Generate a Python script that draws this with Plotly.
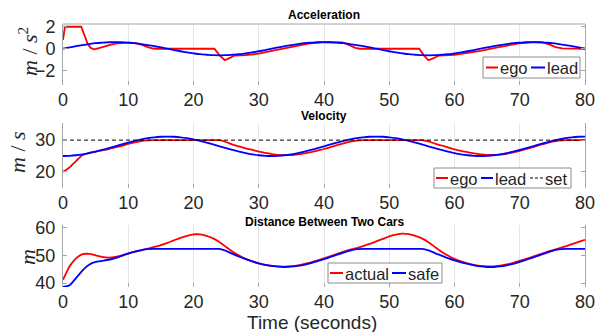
import plotly.graph_objects as go

# ---------------- data ----------------
t = list(range(81))

# Acceleration (m/s^2)
t_acc_ego = [0, 0.3, 2.8, 3.3, 3.8, 4.3, 4.8, 5.5, 6.5, 7.5, 8.5, 10, 11, 12, 13, 13.8, 14.5,
             23.2, 24.0, 24.8, 25.5, 26.3, 28, 30, 32, 34, 36, 38, 40, 42.8, 43.8, 44.8, 45.5,
             54.6, 55.3, 56.0, 56.8, 57.6, 60, 62, 64, 66, 68, 70, 72, 73.5, 74.5, 75.5, 76.5, 78, 80]
acc_ego = [0.8, 2.0, 2.0, 1.2, 0.4, 0.05, -0.05, 0.05, 0.25, 0.4, 0.5, 0.55, 0.5, 0.38, 0.15, 0.02, 0.0,
           0.0, -0.6, -1.05, -0.85, -0.62, -0.58, -0.45, -0.2, 0.05, 0.3, 0.5, 0.6, 0.58, 0.35, 0.08, 0.0,
           0.0, -0.6, -1.05, -0.85, -0.62, -0.55, -0.4, -0.2, 0.05, 0.3, 0.5, 0.6, 0.58, 0.4, 0.15, 0.03, 0.0, 0.0]
acc_lead = [0, .12, .23, .33, .42, .50, .55, .59, .60, .59, .55, .50, .42, .33, .23, .12,
            0, -.12, -.23, -.33, -.42, -.50, -.55, -.59, -.60, -.59, -.55, -.50, -.42, -.33, -.23, -.12,
            0, .12, .23, .33, .42, .50, .55, .59, .60, .59, .55, .50, .42, .33, .23, .12,
            0, -.12, -.23, -.33, -.42, -.50, -.55, -.59, -.60, -.59, -.55, -.50, -.42, -.33, -.23, -.12,
            0, .12, .23, .33, .42, .50, .55, .59, .60, .59, .55, .50, .42, .33, .23, .12, 0]

# Velocity (m/s)
vel_ego = [20.0, 21.4, 23.4, 25.3, 26.0, 26.4, 26.8, 27.2, 27.7, 28.2, 28.8, 29.3, 29.7, 29.9, 30, 30,
           30, 30, 30, 30, 30, 30, 30, 30, 30, 29.4, 28.6, 28.0, 27.4, 26.9, 26.4, 26.0, 25.6, 25.35,
           25.25, 25.3, 25.5, 25.8, 26.2, 26.7, 27.2, 27.8, 28.4, 29.0, 29.5, 29.85, 30, 30, 30, 30,
           30, 30, 30, 30, 30, 30, 29.6, 28.9, 28.3, 27.7, 27.1, 26.6, 26.2, 25.8, 25.5, 25.35, 25.3,
           25.4, 25.7, 26.1, 26.6, 27.2, 27.8, 28.4, 29.0, 29.5, 29.85, 30, 30, 30, 30]
vel_lead = [25.0, 25.06, 25.23, 25.52, 25.9, 26.36, 26.89, 27.46, 28.06, 28.66, 29.23, 29.76, 30.22,
            30.6, 30.89, 31.06, 31.12, 31.06, 30.89, 30.6, 30.22, 29.76, 29.23, 28.66, 28.06, 27.46,
            26.89, 26.36, 25.9, 25.52, 25.23, 25.06,
            25.0, 25.06, 25.23, 25.52, 25.9, 26.36, 26.89, 27.46, 28.06, 28.66, 29.23, 29.76, 30.22,
            30.6, 30.89, 31.06, 31.12, 31.06, 30.89, 30.6, 30.22, 29.76, 29.23, 28.66, 28.06, 27.46,
            26.89, 26.36, 25.9, 25.52, 25.23, 25.06,
            25.0, 25.06, 25.23, 25.52, 25.9, 26.36, 26.89, 27.46, 28.06, 28.66, 29.23, 29.76, 30.22,
            30.6, 30.89, 31.06, 31.12]
vel_set = [30] * 81

# Distance (m)
dist_actual = [41.2, 46.0, 48.9, 50.4, 50.5, 50.0, 49.4, 49.2, 49.4, 50.0, 50.7, 51.3, 51.8, 52.4,
               53.0, 53.7, 54.5, 55.4, 56.3, 57.0, 57.5, 57.5, 57.0, 56.1, 54.7, 53.0, 51.3, 49.9,
               48.7, 47.8, 47.1, 46.6, 46.2, 46.0, 45.95, 46.1, 46.4, 46.9, 47.5, 48.2, 48.9, 49.7,
               50.5, 51.3, 52.0, 52.6, 53.3, 54.1, 55.0, 55.9, 56.8, 57.4, 57.8, 57.6, 57.0, 56.1,
               54.7, 53.0, 51.3, 49.9, 48.7, 47.8, 47.1, 46.6, 46.2, 46.0, 46.0, 46.3, 46.7, 47.3,
               48.0, 48.7, 49.5, 50.3, 51.1, 51.8, 52.5, 53.2, 54.0, 54.8, 55.6]
dist_safe = [38.6, 39.2, 41.8, 44.6, 46.6, 47.6, 48.0, 48.4, 49.0, 49.8, 50.6, 51.3, 51.9, 52.25,
             52.3, 52.3, 52.3, 52.3, 52.3, 52.3, 52.3, 52.3, 52.3, 52.3, 52.3, 51.6, 50.5, 49.5,
             48.6, 47.8, 47.1, 46.6, 46.2, 45.9, 45.8, 45.9, 46.2, 46.6, 47.2, 47.9, 48.6, 49.4,
             50.2, 51.0, 51.7, 52.2, 52.3, 52.3, 52.3, 52.3, 52.3, 52.3, 52.3, 52.3, 52.3, 52.3,
             51.8, 50.8, 49.9, 49.0, 48.2, 47.5, 46.9, 46.4, 46.0, 45.8, 45.8, 46.0, 46.4, 46.9,
             47.6, 48.4, 49.2, 50.0, 50.8, 51.6, 52.1, 52.3, 52.3, 52.3, 52.3]

x_ticks = [0, 10, 20, 30, 40, 50, 60, 70, 80]
y1_ticks = [-2, 0, 2]
y2_ticks = [20, 30]
y3_ticks = [40, 50, 60]

# ---------------- figure ----------------
W, H = 604, 332
RED, BLUE = "#ff0000", "#0000ff"
FONT = "Liberation Sans"
TICK_COLOR = "#262626"
AX_COLOR = "#a6a6a6"
GRID_COLOR = "#e6e6e6"


def px(x):
    return x / W


def py(y):
    return 1 - y / H


fig = go.Figure()
lw = 1.8
fig.add_trace(go.Scatter(x=t_acc_ego, y=acc_ego, mode="lines", line=dict(color=RED, width=lw),
                         name="ego", xaxis="x", yaxis="y"))
fig.add_trace(go.Scatter(x=t, y=acc_lead, mode="lines", line=dict(color=BLUE, width=lw, shape="spline"),
                         name="lead", xaxis="x", yaxis="y"))
fig.add_trace(go.Scatter(x=t, y=vel_ego, mode="lines", line=dict(color=RED, width=lw, shape="spline", smoothing=0.6),
                         name="ego", xaxis="x2", yaxis="y2"))
fig.add_trace(go.Scatter(x=t, y=vel_lead, mode="lines", line=dict(color=BLUE, width=lw, shape="spline"),
                         name="lead", xaxis="x2", yaxis="y2"))
fig.add_trace(go.Scatter(x=t, y=vel_set, mode="lines", line=dict(color="#000000", width=1, dash="4px,3px"),
                         name="set", xaxis="x2", yaxis="y2"))
fig.add_trace(go.Scatter(x=t, y=dist_actual, mode="lines", line=dict(color=RED, width=lw, shape="spline", smoothing=0.6),
                         name="actual", xaxis="x3", yaxis="y3"))
fig.add_trace(go.Scatter(x=t, y=dist_safe, mode="lines", line=dict(color=BLUE, width=lw, shape="spline", smoothing=0.6),
                         name="safe", xaxis="x3", yaxis="y3"))

xdom = [px(63), px(585)]
doms = {1: [py(85), py(24)], 2: [py(188), py(123)], 3: [py(287), py(225)]}
yranges = {1: [-3.3, 2.25], 2: [14.9, 35.4], 3: [38.6, 60.9]}
yticks = {1: y1_ticks, 2: y2_ticks, 3: y3_ticks}

tickfont = dict(family=FONT, size=18, color=TICK_COLOR)
layout = dict(
    width=W, height=H, margin=dict(l=0, r=0, t=0, b=0, autoexpand=False),
    paper_bgcolor="white", plot_bgcolor="white", showlegend=False,
    font=dict(family=FONT, color=TICK_COLOR),
)
for i in (1, 2, 3):
    sx = "" if i == 1 else str(i)
    layout["xaxis" + sx] = dict(
        domain=xdom, anchor="y" + sx, range=[0, 80], tickmode="array", tickvals=x_ticks,
        showgrid=True, gridcolor=GRID_COLOR, gridwidth=1, zeroline=False, showline=False,
        ticks="inside", ticklen=4, tickcolor=AX_COLOR, tickfont=tickfont, ticklabelstandoff=2,
        automargin=False,
    )
    layout["yaxis" + sx] = dict(
        domain=doms[i], anchor="x" + sx, range=yranges[i], tickmode="array", tickvals=yticks[i],
        showgrid=False, zeroline=False, showline=True, linecolor=AX_COLOR, linewidth=1, mirror="ticks",
        ticks="inside", ticklen=4, tickcolor=AX_COLOR, tickfont=tickfont, ticklabelstandoff=3,
        automargin=False,
    )
fig.update_layout(**layout)

# top box line of the first panel
fig.add_shape(type="line", xref="x domain", yref="y domain", x0=0, x1=1, y0=1, y1=1,
              line=dict(color=AX_COLOR, width=1))

# panel titles
for text, yy in (("Acceleration", 15), ("Velocity", 116), ("Distance Between Two Cars", 222)):
    fig.add_annotation(text="<b>%s</b>" % text, xref="paper", yref="paper", x=px(324), y=py(yy),
                       showarrow=False, xanchor="center", yanchor="middle",
                       font=dict(family=FONT, size=12, color="#000000"))

# x axis title
fig.add_annotation(text="Time (seconds)", xref="paper", yref="paper", x=px(312), y=py(322.5), showarrow=False,
                   xanchor="center", yanchor="middle", font=dict(family=FONT, size=19, color=TICK_COLOR))

# y axis titles
serif = dict(family="Liberation Serif", size=22, color="#262626")
for text, xx, yy in (("<i>m</i> / <i>s</i><sup>2</sup>", 28, 52), ("<i>m</i> / <i>s</i>", 18, 152),
                     ("<i>m</i>", 27, 257)):
    fig.add_annotation(text=text, xref="paper", yref="paper", x=px(xx), y=py(yy), showarrow=False,
                       textangle=-90, xanchor="center", yanchor="middle", font=serif)


# legends (compact, MATLAB-like)
def add_legend(box, items):
    x0, y0, x1, y1 = box
    fig.add_shape(type="rect", xref="paper", yref="paper", x0=px(x0), x1=px(x1), y0=py(y1), y1=py(y0),
                  line=dict(color="#8c8c8c", width=1), fillcolor="white", layer="above")
    yc = (y0 + y1) / 2
    for label, color, dash, lx0, lx1, tx in items:
        fig.add_shape(type="line", xref="paper", yref="paper", x0=px(lx0), x1=px(lx1), y0=py(yc), y1=py(yc),
                      line=dict(color=color, width=2 if dash == "solid" else 1, dash=dash), layer="above")
        fig.add_annotation(text=label, xref="paper", yref="paper", x=px(tx), y=py(yc + 0.5), showarrow=False,
                           xanchor="left", yanchor="middle", font=dict(family=FONT, size=16.5, color="#262626"))


add_legend((483, 57, 580, 78), [("ego", RED, "solid", 486, 498, 498), ("lead", BLUE, "solid", 531, 545, 545)])
add_legend((434, 168, 571, 188), [("ego", RED, "solid", 436, 448, 448), ("lead", BLUE, "solid", 481, 493, 493),
                                  ("set", "#000000", "3px,2px", 530, 543, 543)])
add_legend((328, 263, 442, 283), [("actual", RED, "solid", 330, 343, 343), ("safe", BLUE, "solid", 392, 406, 406)])

fig.write_html("out.html", config={"displayModeBar": False},
               post_script="document.body.style.margin='0px';document.body.style.overflow='hidden';")
